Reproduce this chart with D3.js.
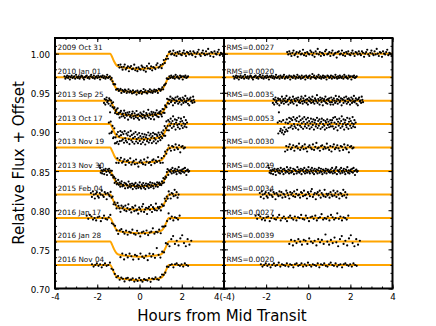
<!DOCTYPE html>
<html>
<head>
	<title>Transit Light Curves</title>
	<script type="text/javascript" src="https://cdnjs.cloudflare.com/ajax/libs/d3/7.8.5/d3.min.js"></script>
	<style>
		body { margin: 0; background: #fff; }
		text { font-family: "DejaVu Sans", sans-serif; }
	</style>
</head>
<body>
<svg id="chart" width="436" height="326"></svg>
<script type="text/javascript">
	// observing dates and fit rms, top to bottom
	var dates = ["2009 Oct 31", "2010 Jan 01", "2013 Sep 25", "2013 Oct 17", "2013 Nov 19",
		"2013 Nov 30", "2015 Feb 04", "2016 Jan 17", "2016 Jan 28", "2016 Nov 04"];
	var rmsLabels = ["RMS=0.0027", "RMS=0.0020", "RMS=0.0035", "RMS=0.0053", "RMS=0.0030",
		"RMS=0.0029", "RMS=0.0034", "RMS=0.0027", "RMS=0.0039", "RMS=0.0020"];
	var offsets = [1.00, 0.97, 0.94, 0.91, 0.88, 0.85, 0.82, 0.79, 0.76, 0.73];

	// time coverage of each light curve (hours from mid transit)
	var tStart = [-1.0, -3.55, -1.68, -1.45, -1.1, -1.9, -2.3, -2.5, -0.9, -2.25];
	var tEnd = [3.95, 2.3, 2.6, 2.25, 2.15, 2.35, 1.85, 1.9, 2.45, 2.3];

	// residuals, in units of 0.001 relative flux
	var resid = [
		[2,-1,3,0,-3,1,4,-2,0,2,-4,1,3,-1,0,5,-2,1,-3,2,0,-1,4,2,-2,1,-4,3,0,6,-1,2,-3,1,0,-2,3,5,-1,0,2,-3,1,4,-2,0,1,-5,2,3,-1,0,4,-2,1,-3,2,0,3,-1,-2,1,4,0,-3,2,1,-1,3,0,
			-2,3,1,-4,0,2,5,-1,-3,1,4,0,-2,3,-1,6,0,-3,2,1,-4,3,0,-1,2,5,-2,1,0,-3],
		[1,-2,0,2,-1,1,-3,0,2,-1,0,1,-2,3,0,-1,1,-2,0,2,1,-1,-3,0,1,2,-1,0,-2,1,3,0,-1,2,-2,0,1,-1,2,0,-3,1,0,2,-1,1,-2,0,3,-1,0,1,-2,2,0,-1,1,3,-2,0,1,-1,0,2,-3,1,0,-1,2,1,-2,0,3,-1,1,0,-2,2,-1,0,1,-3,2,0,-1,1,2,-2,0,4,
			0,2,-1,-2,1,0,3,-1,1,-2,0,2,-1,1,0,-3,2,1,-1,0,2,-2,1,0,-1,3,0,-2,1,-1,2,0,-1,1,-2,3,0,1,-1,-2,2,0,1,-3,1,0,2,-1,0,1],
		[-3,2,-5,1,4,-2,0,-4,3,1,-6,2,0,-3,5,-1,2,-4,0,3,-2,6,-1,1,-5,2,4,-3,0,1,-2,5,-4,2,0,-1,3,-6,1,4,-2,0,-3,2,5,-1,-4,3,0,-2,6,1,-3,2,-5,0,4,-1,2,-3,1,5,-2,0,-4,3,1,-1,7,-3,2,0,-5,4,1,-2,3,-6,0,2,-1,5,-3,1,-4,2,0,3,-2,-5,
			4,-2,1,-5,3,0,-3,6,-1,2,-4,1,5,-2,0,3,-6,2,1,-3,4,0,-1,5,-4,2,-2,3,1,-5,0,4,-3,2,-1,6,-2,0,3,-4,1,-6,2,4,-1,0,-3,5,1,-2],
		[2,-12,15,4,-9,-6,3,-11,-8,5,-13,-4,-10,2,-7,6,-9,1,-5,8,3,-4,7,-2,5,-6,9,0,-3,6,-5,4,8,-1,-7,3,10,-2,5,-4,1,7,-6,3,9,-3,0,6,-5,2,8,-2,4,-6,1,7,-4,3,-1,6,-7,2,5,-3,0,8,-5,4,-2,6,1,-6,3,7,-4,0,5,-2,-7,4,2,-5,6,-1,3,-4,0,5,-3,2,
			5,-3,8,-6,2,9,-4,0,6,-8,3,-2,7,1,-5,4,10,-3,0,6,-7,2,5,-1,-4,8,0,-6,3,7,-2,4,-5,1,9,-3,0,5,-4,2],
		[-5,2,-3,1,4,-2,0,3,-4,1,2,-1,5,-3,0,2,-2,4,-1,-5,1,3,0,-2,4,-3,1,6,-1,0,-4,2,3,-2,1,-1,5,0,-3,2,-5,1,4,-2,0,3,-1,-4,2,1,-3,4,0,-2,3,-6,1,2,-1,0],
		[7,4,-2,1,-3,0,2,-4,1,3,-1,-5,2,0,3,-2,1,-3,4,0,-1,2,-4,3,1,-2,0,5,-1,2,-3,1,4,-2,0,-1,3,-4,2,1,0,-3,5,-1,2,-2,0,3,-4,1,2,-1,4,-3,0,2,-2,1,5,-1,-3,2,0,4,-2,1,-4,3,0,-1,2,-3,1,4,-2,0,3,-1,-4,2,1,-2,0,3,-3,1,2,-1,0,-2,
			2,-1,4,-3,0,1,-2,3,5,-4,1,0,-1,2,-3,4,0,-2,1,3,-1,-4,2,0,5,-2,1,-3,0,2,-1,3,-2,4,0,-5,1,2,-1,0],
		[2,-3,4,0,-5,1,3,-2,-4,2,0,5,-1,-3,3,1,-6,2,0,-2,4,-1,3,-4,1,0,-3,5,2,-1,-5,3,0,2,-2,4,-3,1,6,-1,0,-4,3,2,-2,5,-1,0,-5,3,1,-2,4,7,-3,0,2,-6,1,3,-1,5,-4,2,0,-2,6,-3,1,-1,
			1,-4,3,0,-2,5,-1,2,-3,4,0,-5,2,1,-2,6,-1,3,-4,0],
		[3,-1,4,2,-2,0,-3,1,2,-4,0,3,-1,-2,1,4,-3,0,2,-1,-4,1,3,0,-2,2,-3,1,0,4,-1,-2,3,0,-4,1,2,-1,3,-3,0,1,5,-2,0,-1,2,-3,4,1,-2,0,6,-1,2,-3,1,0,-2,3],
		[-3,2,-5,1,-2,3,0,-4,2,1,-3,4,0,-2,1,-5,3,-1,2,-3,9,0,-4,2,-2,5,-1,-6,3,7,-3,1,-5,4,8,-2,-6,3,-4,1],
		[1,-2,0,2,-1,1,-3,0,2,-1,0,3,-2,1,0,-1,2,-2,1,0,-3,1,2,-1,0,2,-2,1,-1,3,0,-2,1,0,-1,2,-3,1,0,2,-1,-2,1,3,0,-1,2,-2,0,1,-3,1,2,0,-1,1,-2,2,0,-1]
	];

	// transit model shape (hours, flux drop)
	var modelT = [-4, -1.38, -1.3, -1.2, -1.1, -1.0, -0.7, -0.3, 0, 0.3, 0.7, 1.0, 1.1, 1.2, 1.3, 1.38, 4];
	var modelF = [0, 0, -0.004, -0.010, -0.0145, -0.0165, -0.018, -0.0190, -0.0195, -0.0190, -0.018, -0.0165, -0.0145, -0.010, -0.004, 0, 0];

	var xTicks = [-4, -2, 0, 2, 4];
	var yTicks = [0.70, 0.75, 0.80, 0.85, 0.90, 0.95, 1.00];

	var svg = d3.select("#chart");
	var yTop = 38, yBottom = 288.5;
	var panels = [[55, 224], [224, 392.5]];

	var y = d3.scaleLinear().domain([0.70, 1.02]).range([yBottom, yTop]);
	var model = d3.scaleLinear().domain(modelT).range(modelF);

	var minorX = d3.range(-4, 4.01, 0.5);
	var minorY = d3.range(70, 103, 1).map(function(v) { return v / 100; });

	panels.forEach(function(p, pi) {
		var x = d3.scaleLinear().domain([-4, 4]).range(p);
		var g = svg.append("g");

		// orange model / zero lines
		var line = d3.line()
			.x(function(d) { return x(d[0]); })
			.y(function(d) { return y(d[1]); })
			.curve(d3.curveMonotoneX);

		offsets.forEach(function(off, i) {
			var pts = pi == 0
				? modelT.map(function(t, k) { return [t, off + modelF[k]]; })
				: [[-4, off], [4, off]];
			g.append("path")
				.attr("d", line(pts))
				.attr("fill", "none")
				.attr("stroke", "#ffa500")
				.attr("stroke-width", 2);
		});

		// data points
		offsets.forEach(function(off, i) {
			var r = resid[i];
			var n = r.length;
			var step = (tEnd[i] - tStart[i]) / (n - 1);
			g.selectAll(null)
				.data(r)
				.enter().append("circle")
				.attr("cx", function(d, k) { return x(tStart[i] + k * step); })
				.attr("cy", function(d, k) {
					var t = tStart[i] + k * step;
					var base = pi == 0 ? off + model(t) : off;
					return y(base + d / 1000);
				})
				.attr("r", 1.1)
				.attr("fill", "black");
		});

		// labels
		offsets.forEach(function(off, i) {
			g.append("text")
				.attr("x", p[0] + 2.5)
				.attr("y", y(off) - 3.5)
				.attr("font-size", "7.3px")
				.attr("fill", "#111")
				.text(pi == 0 ? dates[i] : rmsLabels[i]);
		});

		// ticks on all four sides, pointing inward
		function addAxis(axis, tx, ty) {
			var a = svg.append("g").attr("transform", "translate(" + tx + "," + ty + ")").call(axis);
			a.select(".domain").remove();
			a.selectAll("line").attr("stroke", "black");
			return a;
		}
		var bx = addAxis(d3.axisBottom(x).tickValues(xTicks).tickSize(-4).tickPadding(5)
			.tickFormat(function(d) {
				if (pi == 0) return d == 4 ? "4(-4)" : String(d);
				return d == -4 ? "" : String(d);
			}), 0, yBottom);
		bx.selectAll("text").attr("font-size", "8.7px").attr("fill", "black")
			.style("font-family", "DejaVu Sans");
		addAxis(d3.axisBottom(x).tickValues(minorX).tickSize(-2).tickFormat(""), 0, yBottom);
		addAxis(d3.axisTop(x).tickValues(xTicks).tickSize(-4).tickFormat(""), 0, yTop);
		addAxis(d3.axisTop(x).tickValues(minorX).tickSize(-2).tickFormat(""), 0, yTop);

		var ly = addAxis(d3.axisLeft(y).tickValues(yTicks).tickSize(-4).tickPadding(5)
			.tickFormat(pi == 0 ? d3.format(".2f") : ""), p[0], 0);
		ly.selectAll("text").attr("font-size", "8.7px").attr("fill", "black")
			.attr("dy", "0.45em")
			.style("font-family", "DejaVu Sans");
		addAxis(d3.axisLeft(y).tickValues(minorY).tickSize(-2).tickFormat(""), p[0], 0);
		addAxis(d3.axisRight(y).tickValues(yTicks).tickSize(-4).tickFormat(""), p[1], 0);
		addAxis(d3.axisRight(y).tickValues(minorY).tickSize(-2).tickFormat(""), p[1], 0);

		// frame
		svg.append("rect")
			.attr("x", p[0]).attr("y", yTop)
			.attr("width", p[1] - p[0]).attr("height", yBottom - yTop)
			.attr("fill", "none")
			.attr("stroke", "black")
			.attr("stroke-width", 2);
	});

	svg.append("text")
		.attr("x", 222).attr("y", 321)
		.attr("text-anchor", "middle")
		.attr("font-size", "15px")
		.text("Hours from Mid Transit");

	svg.append("text")
		.attr("transform", "translate(24,163) rotate(-90)")
		.attr("text-anchor", "middle")
		.attr("font-size", "15px")
		.text("Relative Flux + Offset");
</script>
</body>
</html>
